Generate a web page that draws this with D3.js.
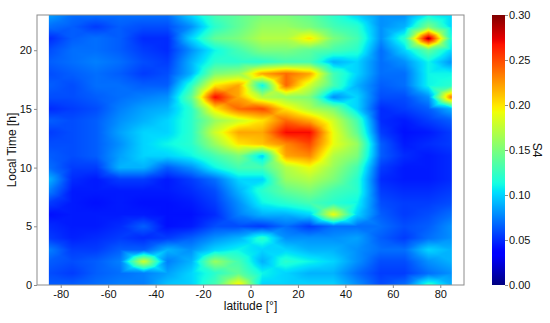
<!DOCTYPE html>
<html>
<head>
<meta charset="utf-8">
<script src="https://cdn.jsdelivr.net/npm/d3@7"></script>
<style>
  body { margin: 0; background: #fff; }
  text { font-family: "Liberation Sans", Arial, sans-serif; fill: #111; }
</style>
</head>
<body>
<svg id="chart" width="550" height="323"></svg>
<script>
// grid nodes
const lats = [-85, -75, -65, -55, -45, -35, -25, -15, -5, 5, 15, 25, 35, 45, 55, 65, 75, 85];
const hours = [0, 1, 2, 3, 4, 5, 6, 7, 8, 9, 10, 11, 12, 13, 14, 15, 16, 17, 18, 19, 20, 21, 22, 23];

// S4 values, one row per local hour (0..23), columns follow lats
const s4 = [
  [.065, .065, .070, .075, .075, .095, .100, .130, .200, .100, .100, .100, .100, .080, .060, .070, .120, .090],
  [.060, .055, .065, .070, .075, .085, .100, .120, .140, .110, .100, .090, .090, .070, .055, .055, .070, .080],
  [.065, .060, .065, .075, .180, .075, .090, .160, .130, .090, .120, .110, .100, .080, .060, .060, .080, .090],
  [.075, .055, .055, .065, .065, .090, .080, .100, .110, .100, .100, .090, .090, .080, .070, .070, .100, .090],
  [.055, .047, .050, .055, .050, .055, .065, .080, .090, .120, .080, .080, .080, .085, .065, .055, .070, .080],
  [.050, .045, .045, .050, .065, .042, .045, .060, .060, .055, .070, .055, .070, .070, .070, .060, .065, .080],
  [.042, .045, .045, .045, .045, .042, .042, .050, .075, .090, .090, .100, .190, .100, .065, .055, .060, .070],
  [.055, .045, .042, .045, .042, .042, .045, .055, .080, .110, .120, .130, .120, .110, .060, .055, .055, .060],
  [.075, .045, .045, .045, .045, .045, .050, .060, .090, .120, .140, .150, .130, .120, .055, .050, .050, .055],
  [.090, .050, .045, .055, .055, .045, .055, .070, .100, .100, .160, .170, .150, .120, .050, .045, .045, .050],
  [.070, .055, .055, .090, .090, .065, .080, .110, .130, .130, .170, .190, .160, .130, .055, .045, .045, .050],
  [.065, .060, .065, .085, .100, .100, .110, .130, .150, .100, .220, .230, .170, .150, .065, .050, .045, .050],
  [.060, .060, .065, .080, .100, .110, .120, .160, .200, .210, .230, .250, .190, .160, .065, .045, .050, .055],
  [.055, .060, .065, .085, .100, .100, .120, .180, .220, .220, .270, .270, .190, .140, .055, .042, .045, .055],
  [.065, .060, .065, .080, .090, .100, .120, .160, .180, .200, .240, .220, .180, .130, .050, .045, .055, .065],
  [.050, .055, .060, .075, .085, .090, .120, .200, .240, .250, .200, .170, .150, .100, .050, .055, .065, .090],
  [.060, .060, .065, .070, .075, .080, .140, .270, .220, .170, .160, .150, .080, .100, .060, .060, .080, .240],
  [.065, .060, .070, .070, .065, .065, .120, .200, .220, .110, .240, .180, .130, .090, .065, .070, .110, .120],
  [.060, .065, .070, .065, .055, .060, .090, .150, .160, .220, .240, .220, .130, .100, .070, .070, .110, .110],
  [.065, .070, .075, .070, .060, .055, .090, .120, .120, .120, .130, .130, .090, .100, .070, .080, .110, .080],
  [.060, .070, .070, .065, .055, .050, .080, .110, .130, .150, .150, .140, .130, .120, .070, .100, .140, .100],
  [.050, .065, .070, .065, .050, .050, .100, .140, .150, .170, .170, .200, .150, .130, .080, .120, .290, .110],
  [.070, .065, .055, .065, .060, .060, .080, .120, .140, .160, .160, .150, .130, .120, .080, .090, .150, .100],
  [.085, .070, .070, .070, .070, .070, .100, .130, .140, .150, .150, .140, .120, .100, .080, .080, .110, .100]
];

const xTicks = [-80, -60, -40, -20, 0, 20, 40, 60, 80];
const yTicks = [0, 5, 10, 15, 20];
const cTicks = [0, 0.05, 0.10, 0.15, 0.20, 0.25, 0.30];

const svg = d3.select('#chart');
const x = d3.scaleLinear().domain([-90, 90]).range([37, 464]);
const y = d3.scaleLinear().domain([0, 23]).range([285, 15]);
const vmin = 0, vmax = 0.30;

// matplotlib 'jet' channels
const jr = d3.scaleLinear().domain([0, 0.35, 0.66, 0.89, 1]).range([0, 0, 1, 1, 0.5]).clamp(true);
const jg = d3.scaleLinear().domain([0, 0.125, 0.375, 0.64, 0.91, 1]).range([0, 0, 1, 1, 0, 0]).clamp(true);
const jb = d3.scaleLinear().domain([0, 0.11, 0.34, 0.65, 1]).range([0.5, 1, 1, 0, 0]).clamp(true);
const norm = d3.scaleLinear().domain([vmin, vmax]).range([0, 1]).clamp(true);
function jet(v) {
    const t = norm(v);
    return [Math.round(jr(t) * 255), Math.round(jg(t) * 255), Math.round(jb(t) * 255)];
}

// gouraud shading: each grid quad split in 4 triangles around its centre
function valueAt(lat, h) {
    const latStep = lats[1] - lats[0];
    let i = Math.floor((lat - lats[0]) / latStep);
    let j = Math.floor(h - hours[0]);
    i = Math.max(0, Math.min(lats.length - 2, i));
    j = Math.max(0, Math.min(hours.length - 2, j));
    const u = Math.max(0, Math.min(1, (lat - lats[i]) / latStep));
    const v = Math.max(0, Math.min(1, (h - hours[j]) / (hours[j + 1] - hours[j])));
    const a = s4[j][i], b = s4[j][i + 1], c = s4[j + 1][i], d = s4[j + 1][i + 1];
    const m = (a + b + c + d) / 4;
    const s = u - 0.5, t = v - 0.5;
    if (Math.abs(t) >= Math.abs(s)) {
        if (t < 0) return (1 - u - v) * a + (u - v) * b + 2 * v * m;
        return (v - u) * c + (u + v - 1) * d + 2 * (1 - v) * m;
    }
    if (s < 0) return (1 - u - v) * a + (v - u) * c + 2 * u * m;
    return (u - v) * b + (u + v - 1) * d + 2 * (1 - u) * m;
}

// heatmap raster
const x0 = x(lats[0]), x1 = x(lats[lats.length - 1]);
const y0 = y(hours[hours.length - 1]), y1 = y(hours[0]);
const W = Math.round(x1 - x0), H = Math.round(y1 - y0);
const canvas = document.createElement('canvas');
canvas.width = W; canvas.height = H;
const ctx = canvas.getContext('2d');
const img = ctx.createImageData(W, H);
for (let py = 0; py < H; py++) {
    const h = y.invert(y0 + py + 0.5);
    for (let px = 0; px < W; px++) {
        const lat = x.invert(x0 + px + 0.5);
        const col = jet(valueAt(lat, h));
        const k = (py * W + px) * 4;
        img.data[k] = col[0]; img.data[k + 1] = col[1]; img.data[k + 2] = col[2]; img.data[k + 3] = 255;
    }
}
ctx.putImageData(img, 0, 0);

svg.append('image')
    .attr('x', x0).attr('y', y0)
    .attr('width', W).attr('height', H)
    .attr('preserveAspectRatio', 'none')
    .attr('href', canvas.toDataURL());

// frame
const axisColor = '#8c8c8c';
svg.append('rect')
    .attr('x', x.range()[0]).attr('y', y.range()[1])
    .attr('width', x.range()[1] - x.range()[0])
    .attr('height', y.range()[0] - y.range()[1])
    .attr('fill', 'none')
    .attr('stroke', axisColor)
    .attr('stroke-width', 1);

function styleAxis(g) {
    g.select('.domain').remove();
    g.selectAll('.tick line').attr('stroke', axisColor);
    g.selectAll('.tick text').style('font-size', '11px').attr('fill', '#111');
}

svg.append('g')
    .attr('transform', `translate(0,${y.range()[0]})`)
    .call(d3.axisBottom(x).tickValues(xTicks).tickFormat(d => String(d)).tickSize(3).tickPadding(2))
    .call(styleAxis);

svg.append('g')
    .attr('transform', `translate(${x.range()[0]},0)`)
    .call(d3.axisLeft(y).tickValues(yTicks).tickSize(3).tickPadding(2))
    .call(styleAxis);

svg.append('text')
    .attr('x', (x.range()[0] + x.range()[1]) / 2)
    .attr('y', 310)
    .attr('text-anchor', 'middle')
    .style('font-size', '12px')
    .text('latitude [°]');

svg.append('text')
    .attr('transform', `translate(16,${(y.range()[0] + y.range()[1]) / 2}) rotate(-90)`)
    .attr('text-anchor', 'middle')
    .style('font-size', '12px')
    .text('Local Time [h]');

// colorbar
const cb = { x: 492, w: 13 };
const cy = d3.scaleLinear().domain([vmin, vmax]).range([285, 15]);
const grad = svg.append('defs').append('linearGradient')
    .attr('id', 'jetgrad')
    .attr('x1', 0).attr('y1', 1).attr('x2', 0).attr('y2', 0);
d3.range(0, 1.0001, 0.01).forEach(t => {
    const c = jet(vmin + t * (vmax - vmin));
    grad.append('stop').attr('offset', t).attr('stop-color', `rgb(${c[0]},${c[1]},${c[2]})`);
});
svg.append('rect')
    .attr('x', cb.x).attr('y', cy(vmax))
    .attr('width', cb.w).attr('height', cy(vmin) - cy(vmax))
    .attr('fill', 'url(#jetgrad)');

svg.append('g')
    .attr('transform', `translate(${cb.x + cb.w},0)`)
    .call(d3.axisRight(cy).tickValues(cTicks).tickFormat(d3.format('.2f')).tickSize(3).tickPadding(1))
    .call(styleAxis);

svg.append('text')
    .attr('transform', `translate(533,${(cy.range()[0] + cy.range()[1]) / 2}) rotate(90)`)
    .attr('text-anchor', 'middle')
    .style('font-size', '12px')
    .text('S4');
</script>
</body>
</html>
